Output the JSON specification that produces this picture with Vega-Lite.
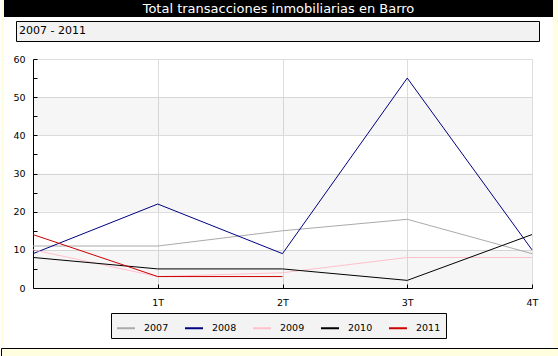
{
  "$schema": "https://vega.github.io/schema/vega-lite/v6.json",
  "background": "white",
  "padding": 0,
  "config": {
    "font": "DejaVu Sans",
    "view": {"stroke": null},
    "text": {"font": "DejaVu Sans"}
  },
  "spacing": 0,
  "vconcat": [
    {
      "spacing": 0,
      "hconcat": [
        {"width": 3, "height": 347, "view": {"fill": "#FFFFE0", "stroke": null}, "data": {"values": []}, "mark": "rect"},
        {
          "spacing": 0,
          "vconcat": [
            {
              "width": 549,
              "height": 17,
              "view": {"fill": "black", "stroke": null},
              "data": {"values": [{"t": "Total transacciones inmobiliarias en Barro"}]},
              "mark": {"type": "text", "color": "white", "fontSize": 13, "baseline": "middle", "align": "center"},
              "encoding": {"text": {"field": "t", "type": "nominal"}}
            },
            {"width": 1, "height": 3, "data": {"values": []}, "mark": "rect"},
            {
              "spacing": 0,
              "hconcat": [
                {"width": 11, "height": 20, "data": {"values": []}, "mark": "rect"},
                {
                  "width": 523,
                  "height": 20,
                  "view": {"fill": "#F2F2F2", "stroke": "black", "strokeWidth": 1},
                  "data": {"values": [{"s": "2007 - 2011"}]},
                  "mark": {"type": "text", "fontSize": 11, "align": "left", "baseline": "middle", "dx": 3, "color": "black"},
                  "encoding": {
                    "text": {"field": "s", "type": "nominal"},
                    "x": {"datum": 0, "type": "quantitative", "scale": {"domain": [0, 1]}, "axis": null}
                  }
                }
              ]
            },
            {"width": 1, "height": 12, "data": {"values": []}, "mark": "rect"},
            {
              "spacing": 0,
              "hconcat": [
                {"width": 8, "height": 229, "data": {"values": []}, "mark": "rect"},
                {
                  "width": 499,
                  "height": 229,
                  "view": {"stroke": null},
                  "layer": [
                    {
                      "data": {"values": [{"lo": 0, "hi": 10}, {"lo": 20, "hi": 30}, {"lo": 40, "hi": 50}]},
                      "mark": {"type": "rect", "color": "#000000", "opacity": 0.035},
                      "encoding": {
                        "y": {
                          "field": "lo", "type": "quantitative",
                          "scale": {"domain": [0, 60], "nice": false},
                          "axis": {
                            "title": null,
                            "values": [0, 5, 10, 15, 20, 25, 30, 35, 40, 45, 50, 55, 60],
                            "labelExpr": "datum.value % 10 === 0 ? datum.label : ''",
                            "grid": true,
                            "gridColor": "#DDDDDD",
                            "gridOpacity": {"condition": {"test": "datum.value % 10 === 0", "value": 1}, "value": 0},
                            "tickSize": -4,
                            "tickColor": "black",
                            "domainColor": "black",
                            "labelFontSize": 9.5,
                            "labelColor": "black",
                            "labelPadding": 12,
                            "labelFlush": false,
                            "labelOverlap": false
                          }
                        },
                        "y2": {"field": "hi"}
                      }
                    },
                    {
                      "data": {
                        "values": [
                          {"year": "2007", "q": 0, "v": 11}, {"year": "2007", "q": 1, "v": 11}, {"year": "2007", "q": 2, "v": 15}, {"year": "2007", "q": 3, "v": 18}, {"year": "2007", "q": 4, "v": 9},
                          {"year": "2008", "q": 0, "v": 9}, {"year": "2008", "q": 1, "v": 22}, {"year": "2008", "q": 2, "v": 9}, {"year": "2008", "q": 3, "v": 55}, {"year": "2008", "q": 4, "v": 10},
                          {"year": "2009", "q": 0, "v": 10}, {"year": "2009", "q": 1, "v": 3}, {"year": "2009", "q": 2, "v": 4}, {"year": "2009", "q": 3, "v": 8}, {"year": "2009", "q": 4, "v": 8},
                          {"year": "2010", "q": 0, "v": 8}, {"year": "2010", "q": 1, "v": 5}, {"year": "2010", "q": 2, "v": 5}, {"year": "2010", "q": 3, "v": 2}, {"year": "2010", "q": 4, "v": 14},
                          {"year": "2011", "q": 0, "v": 14}, {"year": "2011", "q": 1, "v": 3}, {"year": "2011", "q": 2, "v": 3}
                        ]
                      },
                      "mark": {"type": "line", "strokeWidth": 1},
                      "encoding": {
                        "x": {
                          "field": "q", "type": "quantitative",
                          "scale": {"domain": [0, 4], "nice": false, "zero": false},
                          "axis": {
                            "title": null,
                            "values": [1, 2, 3, 4],
                            "labelExpr": "datum.value + 'T'",
                            "grid": true,
                            "gridColor": "#DDDDDD",
                            "tickSize": -4,
                            "tickColor": "black",
                            "domainColor": "black",
                            "labelFontSize": 9.5,
                            "labelColor": "black",
                            "labelPadding": 13,
                            "labelFlush": false,
                            "labelOverlap": false
                          }
                        },
                        "y": {
                          "field": "v", "type": "quantitative",
                          "scale": {"domain": [0, 60], "nice": false},
                          "axis": {
                            "title": null,
                            "values": [0, 5, 10, 15, 20, 25, 30, 35, 40, 45, 50, 55, 60],
                            "labelExpr": "datum.value % 10 === 0 ? datum.label : ''",
                            "grid": true,
                            "gridColor": "#DDDDDD",
                            "gridOpacity": {"condition": {"test": "datum.value % 10 === 0", "value": 1}, "value": 0},
                            "tickSize": -4,
                            "tickColor": "black",
                            "domainColor": "black",
                            "labelFontSize": 9.5,
                            "labelColor": "black",
                            "labelPadding": 12,
                            "labelFlush": false,
                            "labelOverlap": false
                          }
                        },
                        "color": {
                          "field": "year", "type": "nominal",
                          "scale": {"domain": ["2007", "2008", "2009", "2010", "2011"], "range": ["#AAAAAA", "#000080", "#FFC0CB", "#000000", "#CC0000"]},
                          "legend": {
                            "orient": "none", "legendX": 110, "legendY": 313,
                            "direction": "horizontal", "title": null,
                            "fillColor": "#F3F3F3", "strokeColor": "black", "padding": 5, "cornerRadius": 0,
                            "symbolType": "stroke", "symbolSize": 324, "symbolStrokeWidth": 2,
                            "labelFontSize": 9.5, "labelOffset": 8, "columnPadding": 12, "labelColor": "black"
                          }
                        }
                      }
                    }
                  ]
                }
              ]
            },
            {"width": 1, "height": 39, "data": {"values": []}, "mark": "rect"}
          ]
        },
        {"width": 6, "height": 347, "view": {"fill": "#FFFFE0", "stroke": null}, "data": {"values": []}, "mark": "rect"}
      ]
    },
    {
      "width": 558,
      "height": 9,
      "view": {"fill": "#FFFFE0", "stroke": "black", "strokeWidth": 1},
      "data": {"values": []},
      "mark": "rect"
    }
  ]
}
